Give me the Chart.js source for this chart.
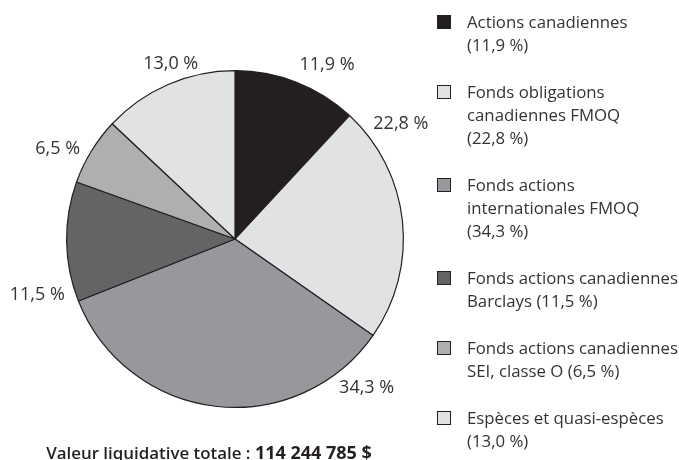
<!DOCTYPE html>
<html><head><meta charset="utf-8">
<script src="https://cdn.jsdelivr.net/npm/chart.js@4/dist/chart.umd.min.js"></script>
<style>
html,body{margin:0;padding:0;background:#fff;}
#wrap{position:relative;width:679px;height:460px;overflow:hidden;font-family:"Open Sans",sans-serif;color:#333;}
#c{position:absolute;left:0;top:0;}
#legend{position:absolute;left:437px;top:10px;width:242px;}
.item{position:relative;margin-bottom:24px;padding-left:30px;font-size:16.8px;line-height:23px;white-space:nowrap;}
.sw{position:absolute;left:0;top:5px;width:12px;height:12px;border:1px solid #231f20;}
#total{position:absolute;left:0;width:418px;top:440px;text-align:center;font-size:16.9px;line-height:24px;color:#231f20;font-weight:600;white-space:nowrap;}
#total b{font-weight:700;font-size:18px;}
</style></head><body>
<div id="wrap">
<canvas id="c" width="679" height="460"></canvas>
<div id="legend"></div>
<div id="total"></div>
</div>
<script>
const categories = ["Actions canadiennes", "Fonds obligations\ncanadiennes FMOQ", "Fonds actions\ninternationales FMOQ", "Fonds actions canadiennes\nBarclays", "Fonds actions canadiennes\nSEI, classe O", "Espèces et quasi-espèces"];
const values = [11.9, 22.8, 34.3, 11.5, 6.5, 13.0];
const pctOnNewLine = [true, true, true, false, false, true];
const colors = ["#231f20", "#e1e2e4", "#97989c", "#636466", "#aeafb1", "#e1e2e4"];
const totalLabel = "Valeur liquidative totale : ";
const totalValue = "114 244 785 $";
// label placement style: fraction along slice, radius factor
const labelFrac = [0.65, 0.15, 0.11, 0.14, 0.3, 0.57];
const labelRad = [1.17, 1.2, 1.18, 1.22, 1.18, 1.11];

const fmt = v => v.toFixed(1).replace('.', ',') + ' %';

const leg = document.getElementById('legend');
categories.forEach((c, i) => {
  const d = document.createElement('div'); d.className = 'item';
  const sw = document.createElement('span'); sw.className = 'sw'; sw.style.background = colors[i];
  d.appendChild(sw);
  const lines = c.split('\n');
  const txt = pctOnNewLine[i] ? lines.concat(['(' + fmt(values[i]) + ')']) : lines.slice(0, -1).concat([lines[lines.length-1] + ' (' + fmt(values[i]) + ')']);
  txt.forEach((t, k) => { if (k) d.appendChild(document.createElement('br')); d.appendChild(document.createTextNode(t)); });
  leg.appendChild(d);
});
document.getElementById('total').innerHTML = totalLabel + '<b>' + totalValue + '</b>';

const labelPlugin = {
  id: 'outLabels',
  afterDatasetsDraw(chart) {
    const ctx = chart.ctx;
    const meta = chart.getDatasetMeta(0);
    ctx.save();
    ctx.font = '18px "Open Sans", sans-serif';
    ctx.fillStyle = '#333';
    ctx.textAlign = 'center';
    ctx.textBaseline = 'middle';
    meta.data.forEach((arc, i) => {
      const p = arc.getProps(['x','y','startAngle','endAngle','outerRadius'], true);
      const a = p.startAngle + (p.endAngle - p.startAngle) * labelFrac[i];
      const r = p.outerRadius * labelRad[i];
      ctx.fillText(fmt(values[i]), p.x + Math.cos(a) * r, p.y + Math.sin(a) * r);
    });
    ctx.restore();
  }
};

new Chart(document.getElementById('c'), {
  type: 'pie',
  data: { labels: categories, datasets: [{ data: values, backgroundColor: colors, borderColor: '#231f20', borderWidth: 1.2 }] },
  options: {
    responsive: false, animation: false,
    layout: { padding: { left: 66, right: 275, top: 70, bottom: 52 } },
    plugins: { legend: { display: false }, tooltip: { enabled: false } }
  },
  plugins: [labelPlugin]
});
</script>
</body></html>
